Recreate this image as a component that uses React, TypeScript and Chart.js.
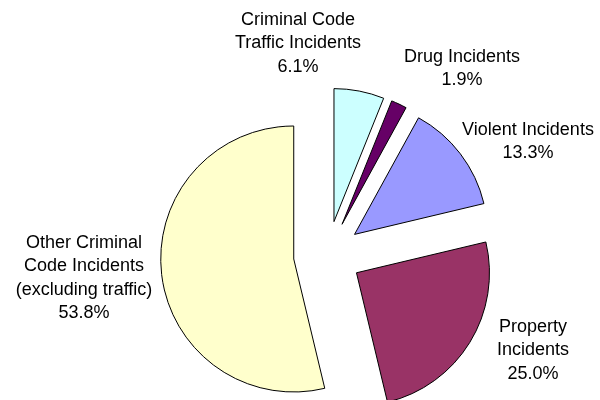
import React, { useEffect, useRef } from "react";
import { Chart, registerables } from "chart.js";

Chart.register(...registerables);

const categories: string[][] = [
  ["Criminal Code", "Traffic Incidents"],
  ["Drug Incidents"],
  ["Violent Incidents"],
  ["Property", "Incidents"],
  ["Other Criminal", "Code Incidents", "(excluding traffic)"],
];
const values: number[] = [6.1, 1.9, 13.3, 25.0, 53.8];
const colors: string[] = ["#CCFFFF", "#660066", "#9999FF", "#993366", "#FFFFCC"];

// label layout (centre of first line, relative to pie centre)
const LABEL_OFFSETS: [number, number][] = [
  [-29.5, -235],
  [134.5, -198],
  [200.5, -125],
  [205.5, 72],
  [-243.5, -12],
];
const EXPLODE = 34;
const LINE_H = 23.5;

const explodePlugin = {
  id: "explodePie",
  afterDatasetUpdate(chart: any, args: any) {
    const meta = chart.getDatasetMeta(args.index);
    meta.data.forEach((arc: any) => {
      const mid = (arc.startAngle + arc.endAngle) / 2;
      arc.x += Math.cos(mid) * EXPLODE;
      arc.y += Math.sin(mid) * EXPLODE;
    });
  },
};

const labelPlugin = {
  id: "pieLabels",
  afterDraw(chart: any) {
    const ctx = chart.ctx;
    const area = chart.chartArea;
    const cx = (area.left + area.right) / 2;
    const cy = (area.top + area.bottom) / 2;
    ctx.save();
    ctx.font = '18px "Liberation Sans", Arial, sans-serif';
    ctx.fillStyle = "#000000";
    ctx.textAlign = "center";
    ctx.textBaseline = "middle";
    categories.forEach((lines, i) => {
      const [dx, dy] = LABEL_OFFSETS[i];
      const all = [...lines, values[i].toFixed(1) + "%"];
      all.forEach((t, j) => {
        ctx.fillText(t, cx + dx, cy + dy + j * LINE_H);
      });
    });
    ctx.restore();
  },
};

export default function App() {
  const ref = useRef<HTMLCanvasElement | null>(null);
  useEffect(() => {
    if (!ref.current) return;
    const chart = new Chart(ref.current, {
      type: "pie",
      data: {
        labels: categories.map((c) => c.join(" ")),
        datasets: [
          {
            data: values,
            backgroundColor: colors,
            borderColor: "#000000",
            borderWidth: 1,
          },
        ],
      },
      options: {
        animation: false,
        responsive: true,
        maintainAspectRatio: false,
        radius: 133,
        layout: { padding: { left: 55, top: 110, right: 0, bottom: 0 } },
        plugins: {
          legend: { display: false },
          tooltip: { enabled: false },
          title: { display: false },
        },
      } as any,
      plugins: [explodePlugin, labelPlugin],
    });
    return () => chart.destroy();
  }, []);
  return (
    <div style={{ position: "absolute", left: 0, top: 0, width: 600, height: 400, background: "#fff" }}>
      <canvas ref={ref} />
    </div>
  );
}
